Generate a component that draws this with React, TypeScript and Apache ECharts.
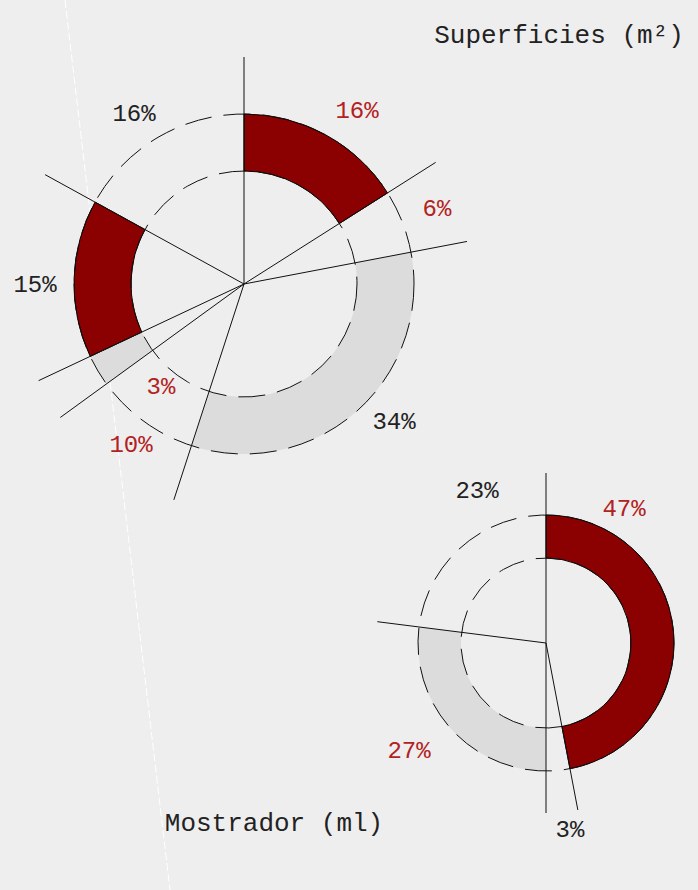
import React, { useEffect, useRef } from "react";
import * as echarts from "echarts";

// ---- data ----
const TOP_TITLE = "Superficies (m²)";
const TOP_VALUES = [16, 6, 33, 10, 3, 15, 17];
const TOP_KINDS = ["red", "empty", "gray", "empty", "gray", "red", "empty"];
const TOP_LABELS = ["16%", "6%", "34%", "10%", "3%", "15%", "16%"];
const TOP_LABEL_TONES = ["red", "red", "dark", "red", "red", "dark", "dark"];

const BOTTOM_TITLE = "Mostrador (ml)";
const BOTTOM_VALUES = [47, 3, 27, 23];
const BOTTOM_KINDS = ["red", "empty", "gray", "empty"];
const BOTTOM_LABELS = ["47%", "3%", "27%", "23%"];
const BOTTOM_LABEL_TONES = ["red", "dark", "red", "dark"];

// ---- layout / style ----
const TOP_GEOM = { cx: 244, cy: 284, r0: 113, r: 170, line: 227 };
const BOTTOM_GEOM = { cx: 546, cy: 643, r0: 85, r: 128, line: 170 };
const TOP_LABEL_OFFSETS = [
  [113, -173],
  [193, -75],
  [150, 138],
  [-113, 161],
  [-83, 103],
  [-209, 1],
  [-110, -170],
];
const BOTTOM_LABEL_OFFSETS = [
  [78, -134],
  [24, 187],
  [-137, 108],
  [-69, -152],
];
const FONT = "Liberation Mono, Courier New, monospace";
const COLORS = {
  bg: "#eeeeee",
  red: "#8b0000",
  gray: "#dcdcdc",
  labelRed: "#b22222",
  labelDark: "#222222",
  ink: "#111111",
};

function itemStyleFor(kind: string) {
  if (kind === "red") return { color: COLORS.red, borderColor: "#000", borderWidth: 1 };
  if (kind === "gray") return { color: COLORS.gray, borderWidth: 0 };
  return { color: "rgba(0,0,0,0)", borderWidth: 0 };
}

function buildPie(values: number[], kinds: string[], labels: string[], tones: string[], geom: any, offsets: number[][]) {
  return {
    type: "pie",
    center: [geom.cx, geom.cy],
    radius: [geom.r0, geom.r],
    startAngle: 90,
    clockwise: true,
    avoidLabelOverlap: false,
    silent: true,
    z: 2,
    label: { show: true, position: "inside", fontFamily: FONT, fontSize: 24 },
    labelLine: { show: false },
    emphasis: { disabled: true },
    labelLayout: (params: any) => {
      const off = offsets[params.dataIndex];
      return { x: geom.cx + off[0], y: geom.cy + off[1], align: "center", verticalAlign: "middle" };
    },
    data: values.map((v, i) => ({
      value: v,
      name: labels[i] + "_" + i,
      itemStyle: itemStyleFor(kinds[i]),
      label: {
        formatter: labels[i],
        color: tones[i] === "red" ? COLORS.labelRed : COLORS.labelDark,
      },
    })),
  };
}

function radialLines(values: number[], geom: any) {
  const total = values.reduce((a, b) => a + b, 0);
  const out: any[] = [];
  let acc = 0;
  values.forEach((v) => {
    const a = (acc / total) * Math.PI * 2;
    out.push({
      type: "line",
      z: 20,
      silent: true,
      shape: {
        x1: geom.cx,
        y1: geom.cy,
        x2: geom.cx + geom.line * Math.sin(a),
        y2: geom.cy - geom.line * Math.cos(a),
      },
      style: { stroke: COLORS.ink, lineWidth: 1 },
    });
    acc += v;
  });
  return out;
}

function dashedRings(geom: any) {
  return [geom.r, geom.r0].map((r) => ({
    type: "circle",
    z: 10,
    silent: true,
    shape: { cx: geom.cx, cy: geom.cy, r },
    style: { fill: null, stroke: COLORS.ink, lineWidth: 1, lineDash: [27, 12] },
  }));
}

export default function App() {
  const ref = useRef<HTMLDivElement>(null);
  useEffect(() => {
    document.body.style.margin = "0";
    if (!ref.current) return;
    const chart = echarts.init(ref.current, undefined, { renderer: "svg" });
    chart.setOption({
      animation: false,
      backgroundColor: COLORS.bg,
      series: [
        buildPie(TOP_VALUES, TOP_KINDS, TOP_LABELS, TOP_LABEL_TONES, TOP_GEOM, TOP_LABEL_OFFSETS),
        buildPie(BOTTOM_VALUES, BOTTOM_KINDS, BOTTOM_LABELS, BOTTOM_LABEL_TONES, BOTTOM_GEOM, BOTTOM_LABEL_OFFSETS),
      ],
      graphic: [
        {
          type: "line",
          z: 0,
          silent: true,
          shape: { x1: 65, y1: 0, x2: 170, y2: 890 },
          style: { stroke: "#ffffff", lineWidth: 1, lineDash: [8, 3] },
        },
        ...dashedRings(TOP_GEOM),
        ...dashedRings(BOTTOM_GEOM),
        ...radialLines(TOP_VALUES, TOP_GEOM),
        ...radialLines(BOTTOM_VALUES, BOTTOM_GEOM),
        {
          type: "text",
          z: 30,
          x: 559,
          y: 36,
          style: { text: TOP_TITLE, align: "center", verticalAlign: "middle", fontFamily: FONT, fontSize: 26, fill: COLORS.labelDark },
        },
        {
          type: "text",
          z: 30,
          x: 274,
          y: 824,
          style: { text: BOTTOM_TITLE, align: "center", verticalAlign: "middle", fontFamily: FONT, fontSize: 26, fill: COLORS.labelDark },
        },
      ],
    });
    return () => chart.dispose();
  }, []);
  return <div ref={ref} style={{ width: 698, height: 890 }} />;
}
